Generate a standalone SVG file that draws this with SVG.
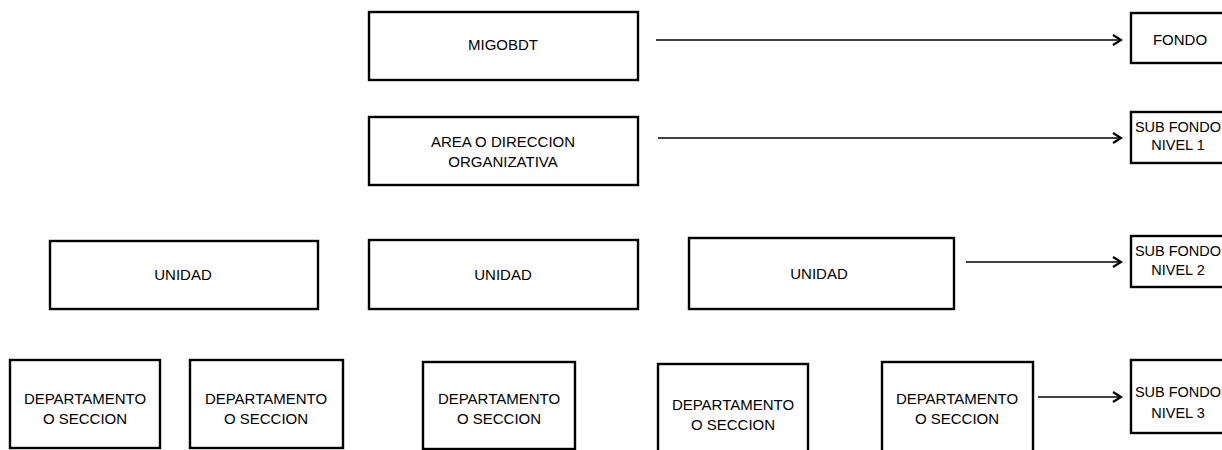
<svg xmlns="http://www.w3.org/2000/svg" width="1222" height="450" viewBox="0 0 1222 450">
<style>
.box{fill:#fff;stroke:#000;stroke-width:2.4}
.t{font-family:"Liberation Sans",Arial,sans-serif;font-size:15px;fill:#000;text-anchor:middle}
.s{font-size:14.5px}
.c{stroke:#000;stroke-width:1.3;fill:none}
</style>
<defs>
<marker id="ah" markerWidth="12" markerHeight="12" refX="10" refY="6" orient="auto" markerUnits="userSpaceOnUse">
<path d="M2,1 L10,6 L2,11" fill="none" stroke="#000" stroke-width="2.2"/>
</marker>
</defs>
<rect width="1222" height="450" fill="#fff"/>
<g id="connectors">
<line class="c" x1="656" y1="40" x2="1121" y2="40" marker-end="url(#ah)"/>
<line class="c" x1="658" y1="138" x2="1121" y2="138" marker-end="url(#ah)"/>
<line class="c" x1="966" y1="262" x2="1121" y2="262" marker-end="url(#ah)"/>
<line class="c" x1="1038" y1="397" x2="1121" y2="397" marker-end="url(#ah)"/>
</g>
<g id="migobdt"><rect class="box" x="369" y="12" width="269" height="68"/><text class="t" x="503" y="50">MIGOBDT</text></g>
<g id="area"><rect class="box" x="369" y="117" width="269" height="68"/><text class="t" x="503" y="147">AREA O DIRECCION</text><text class="t" x="503" y="167">ORGANIZATIVA</text></g>
<g id="fondo"><rect class="box" x="1131" y="13" width="95" height="50"/><text class="t" x="1180" y="45">FONDO</text></g>
<g id="sub1"><rect class="box" x="1131" y="112" width="95" height="51"/><text class="t s" x="1178" y="132">SUB FONDO</text><text class="t s" x="1178" y="150">NIVEL 1</text></g>
<g id="unidad1"><rect class="box" x="50" y="241" width="268" height="68"/><text class="t" x="183" y="280">UNIDAD</text></g>
<g id="unidad2"><rect class="box" x="369" y="240" width="269" height="69"/><text class="t" x="503" y="280">UNIDAD</text></g>
<g id="unidad3"><rect class="box" x="689" y="238" width="265" height="71"/><text class="t" x="819" y="279">UNIDAD</text></g>
<g id="sub2"><rect class="box" x="1131" y="236" width="95" height="51"/><text class="t s" x="1178" y="256">SUB FONDO</text><text class="t s" x="1178" y="275">NIVEL 2</text></g>
<g id="dep1"><rect class="box" x="10" y="360" width="150" height="88"/><text class="t" x="85" y="404">DEPARTAMENTO</text><text class="t" x="85" y="424">O SECCION</text></g>
<g id="dep2"><rect class="box" x="190" y="360" width="153" height="88"/><text class="t" x="266" y="404">DEPARTAMENTO</text><text class="t" x="266" y="424">O SECCION</text></g>
<g id="dep3"><rect class="box" x="423" y="362" width="152" height="87"/><text class="t" x="499" y="404">DEPARTAMENTO</text><text class="t" x="499" y="424">O SECCION</text></g>
<g id="dep4"><rect class="box" x="658" y="364" width="150" height="90"/><text class="t" x="733" y="410">DEPARTAMENTO</text><text class="t" x="733" y="430">O SECCION</text></g>
<g id="dep5"><rect class="box" x="882" y="362" width="151" height="92"/><text class="t" x="957" y="404">DEPARTAMENTO</text><text class="t" x="957" y="424">O SECCION</text></g>
<g id="sub3"><rect class="box" x="1131" y="360" width="95" height="73"/><text class="t s" x="1178" y="397">SUB FONDO</text><text class="t s" x="1178" y="418">NIVEL 3</text></g>
</svg>
